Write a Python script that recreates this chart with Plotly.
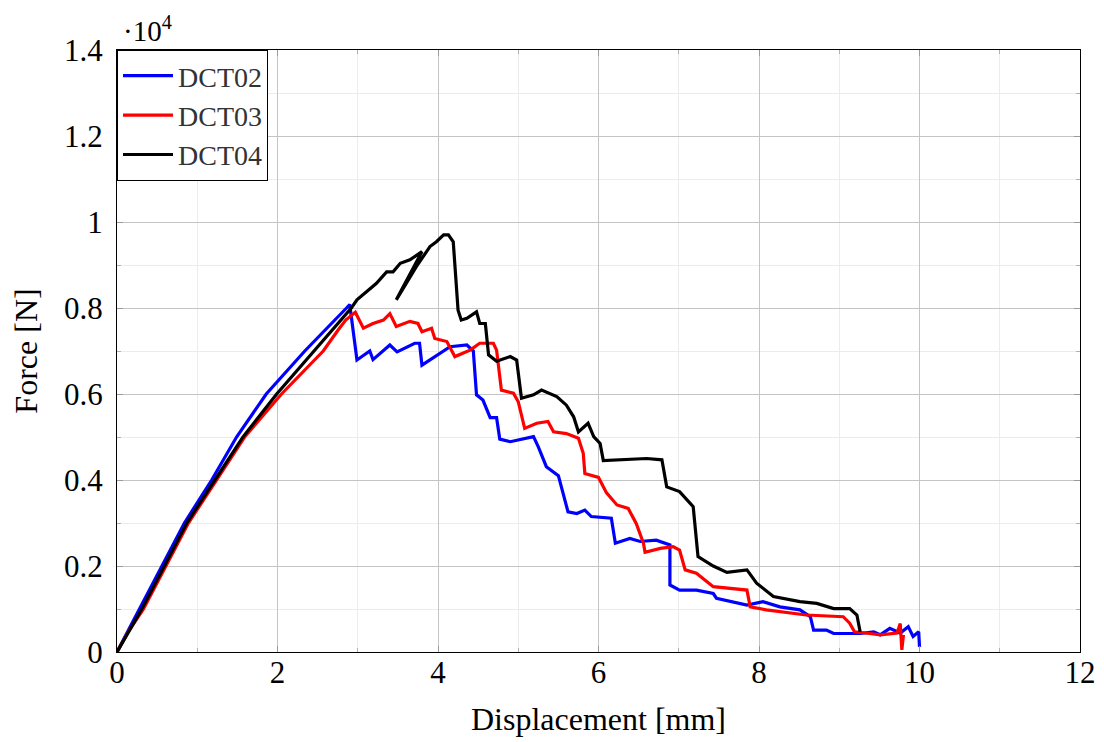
import plotly.graph_objects as go

# Displacement [mm] and Force [x10^4 N]
disp_dct02 = [0, 0.14, 0.29, 0.56, 0.84, 1.18, 1.49, 1.86, 2.34, 2.86, 2.90, 2.99, 3.15, 3.19, 3.40, 3.49,
              3.71, 3.77, 3.80, 4.15, 4.36, 4.44, 4.48, 4.56, 4.65, 4.73, 4.77, 4.90, 5.19, 5.25, 5.31,
              5.35, 5.50, 5.62, 5.73, 5.83, 5.91, 6.16, 6.21, 6.39, 6.52, 6.72, 6.89, 6.89, 7.01, 7.22,
              7.43, 7.47, 7.85, 8.05, 8.26, 8.51, 8.64, 8.68, 8.84, 8.93, 9.26, 9.43, 9.51, 9.63, 9.76,
              9.86, 9.92, 9.99, 10.0]
force_dct02 = [0, 0.05, 0.10, 0.20, 0.30, 0.40, 0.50, 0.60, 0.70, 0.80, 0.808, 0.679, 0.70, 0.68,
               0.714, 0.698, 0.718, 0.718, 0.667, 0.71, 0.714, 0.70, 0.598, 0.586, 0.545, 0.545, 0.495,
               0.489, 0.501, 0.477, 0.447, 0.431, 0.41, 0.326, 0.322, 0.33, 0.315, 0.311, 0.253, 0.264,
               0.257, 0.26, 0.249, 0.156, 0.144, 0.144, 0.136, 0.125, 0.109, 0.117, 0.105, 0.098, 0.082,
               0.051, 0.051, 0.043, 0.043, 0.047, 0.040, 0.055, 0.044, 0.059, 0.036, 0.047, 0.012]

disp_dct03 = [0, 0.15, 0.33, 0.61, 0.89, 1.24, 1.59, 2.05, 2.57, 2.76, 2.85, 2.97, 3.07, 3.19, 3.32,
              3.40, 3.48, 3.65, 3.75, 3.80, 3.92, 3.96, 4.11, 4.21, 4.40, 4.52, 4.69, 4.73, 4.79, 4.94,
              5.0, 5.08, 5.23, 5.37, 5.44, 5.60, 5.75, 5.81, 5.83, 6.00, 6.10, 6.23, 6.37, 6.47, 6.56,
              6.58, 6.77, 6.93, 7.01, 7.08, 7.22, 7.43, 7.85, 7.89, 8.09, 8.59, 9.05, 9.13, 9.19, 9.38,
              9.51, 9.72, 9.76, 9.78, 9.80]
force_dct03 = [0, 0.05, 0.10, 0.20, 0.30, 0.40, 0.50, 0.60, 0.70, 0.75, 0.772, 0.79, 0.753,
               0.764, 0.772, 0.787, 0.757, 0.769, 0.764, 0.745, 0.753, 0.729, 0.722, 0.687, 0.702, 0.718,
               0.718, 0.702, 0.609, 0.602, 0.582, 0.520, 0.532, 0.536, 0.512, 0.508, 0.497, 0.462, 0.415,
               0.406, 0.370, 0.342, 0.334, 0.299, 0.253, 0.232, 0.241, 0.245, 0.237, 0.191, 0.183, 0.152,
               0.144, 0.105, 0.098, 0.086, 0.082, 0.067, 0.047, 0.043, 0.040, 0.044, 0.066, 0.005, 0.04]

disp_dct04 = [0, 0.15, 0.31, 0.59, 0.87, 1.22, 1.57, 1.99, 2.45, 2.92, 2.99, 3.23, 3.36, 3.44, 3.53, 3.65,
              3.80, 3.48, 3.73, 3.90, 3.98, 4.07, 4.13, 4.19, 4.25, 4.29, 4.36, 4.48, 4.52, 4.59, 4.63,
              4.73, 4.90, 4.98, 5.04, 5.19, 5.29, 5.48, 5.60, 5.69, 5.75, 5.87, 5.94, 6.02, 6.06, 6.27,
              6.60, 6.79, 6.85, 7.01, 7.18, 7.24, 7.43, 7.60, 7.85, 7.97, 8.18, 8.51, 8.72, 8.93, 9.13,
              9.22, 9.26]
force_dct04 = [0, 0.05, 0.10, 0.20, 0.30, 0.40, 0.50, 0.60, 0.70, 0.80, 0.819, 0.857, 0.884, 0.884,
               0.904, 0.912, 0.931, 0.819, 0.896, 0.943, 0.954, 0.970, 0.970, 0.954, 0.795, 0.772, 0.776,
               0.791, 0.764, 0.764, 0.691, 0.676, 0.687, 0.679, 0.590, 0.598, 0.609, 0.594, 0.574, 0.547,
               0.512, 0.532, 0.501, 0.485, 0.445, 0.447, 0.450, 0.447, 0.384, 0.373, 0.338, 0.222, 0.200,
               0.185, 0.191, 0.160, 0.129, 0.117, 0.113, 0.101, 0.101, 0.086, 0.047]

series = [
    ("DCT02", disp_dct02, force_dct02, "#0000ff"),
    ("DCT03", disp_dct03, force_dct03, "#ff0000"),
    ("DCT04", disp_dct04, force_dct04, "#000000"),
]

FONT = "Liberation Serif"

fig = go.Figure()
for name, x, y, c in series:
    fig.add_trace(go.Scatter(x=x, y=y, mode="lines", name=name,
                             line=dict(color=c, width=3.2)))

axis_common = dict(
    showline=True, linecolor="black", linewidth=1.2, mirror="ticks",
    ticks="inside", ticklen=6, tickcolor="#9a9a9a", tickwidth=1,
    showgrid=True, gridcolor="#c4c4c4", gridwidth=1, zeroline=False,
    automargin=False,
    tickfont=dict(family=FONT, size=31, color="black"),
)

fig.update_xaxes(range=[0, 12], dtick=2, tick0=0,
                 minor=dict(dtick=1, showgrid=True, gridcolor="#ececec",
                            ticks="inside", ticklen=4, tickcolor="#b0b0b0"),
                 ticklabelstandoff=-7,
                 title=dict(text="Displacement [mm]", font=dict(family=FONT, size=32, color="black"),
                            standoff=18),
                 **axis_common)
fig.update_yaxes(range=[0, 1.4], dtick=0.2, tick0=0,
                 minor=dict(dtick=0.1, showgrid=True, gridcolor="#ececec",
                            ticks="inside", ticklen=4, tickcolor="#b0b0b0"),
                 ticklabelstandoff=7,
                 title=dict(text="Force [N]", font=dict(family=FONT, size=32, color="black"),
                            standoff=22),
                 **axis_common)

fig.add_annotation(text="·10<sup>4</sup>", xref="paper", yref="paper", x=0, y=1,
                   xanchor="left", yanchor="bottom", xshift=4, yshift=1, showarrow=False,
                   font=dict(family=FONT, size=29, color="black"))

# page body has an 8px margin, so size the figure to the remaining viewport
fig.update_layout(
    width=1096, height=734,
    margin=dict(l=109, r=24, t=42, b=90),
    paper_bgcolor="white", plot_bgcolor="white",
    legend=dict(x=0, y=1, xanchor="left", yanchor="top",
                bordercolor="black", borderwidth=1, bgcolor="white",
                font=dict(family=FONT, size=28, color="#333333"),
                itemwidth=50, tracegroupgap=0),
    showlegend=True,
)

fig.write_html("out.html")
